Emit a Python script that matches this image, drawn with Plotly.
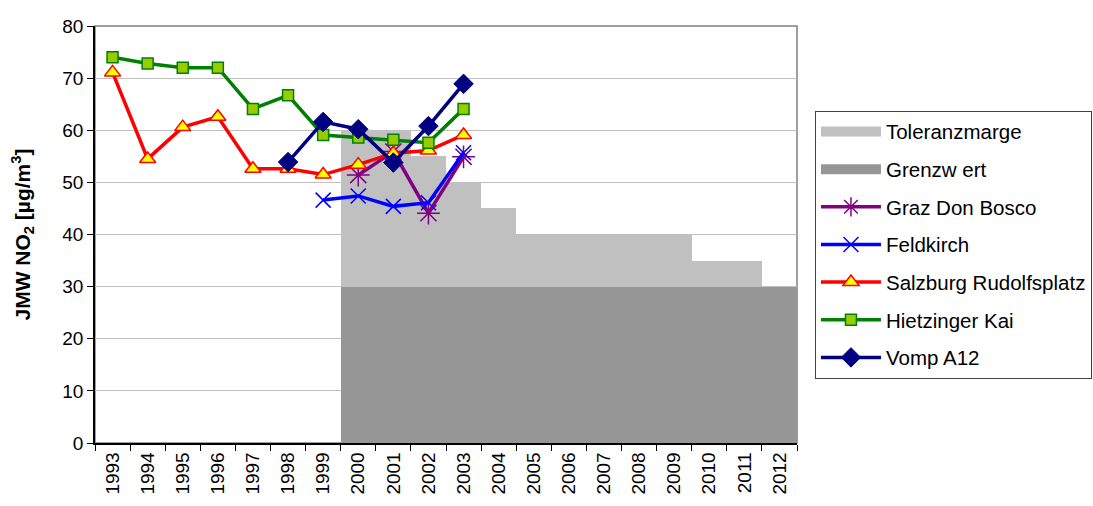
import plotly.graph_objects as go

years = [str(y) for y in range(1993, 2013)]

# Limit value and tolerance margin (2000-2012)
limit_years = [str(y) for y in range(2000, 2013)]
grenzwert = [30] * 13
toleranzmarge = [30, 30, 25, 20, 15, 10, 10, 10, 10, 10, 5, 5, 0]

# Annual mean NO2 at the stations
graz_years = ["2000", "2001", "2002", "2003"]
graz = [51.4, 55.9, 44.1, 54.9]

feldkirch_years = ["1999", "2000", "2001", "2002", "2003"]
feldkirch = [46.6, 47.4, 45.4, 46.1, 55.7]

salzburg_years = [str(y) for y in range(1993, 2004)]
salzburg = [71.1, 54.5, 60.6, 62.6, 52.6, 52.6, 51.5, 53.4, 55.6, 56.1, 59.1]

hietzing_years = [str(y) for y in range(1993, 2004)]
hietzing = [74.0, 72.8, 72.0, 72.0, 64.1, 66.7, 59.1, 58.6, 58.2, 57.6, 64.1]

vomp_years = ["1998", "1999", "2000", "2001", "2002", "2003"]
vomp = [53.9, 61.6, 60.2, 53.8, 60.8, 68.9]

FONT = "Liberation Sans, Arial, sans-serif"

fig = go.Figure()

# Stacked step columns (no legend; legend swatches added separately)
fig.add_trace(go.Bar(x=limit_years, y=grenzwert, marker=dict(color="#969696", line=dict(width=0)),
                     showlegend=False, hoverinfo="skip"))
fig.add_trace(go.Bar(x=limit_years, y=toleranzmarge, marker=dict(color="#C0C0C0", line=dict(width=0)),
                     showlegend=False, hoverinfo="skip"))

# Wide legend swatches for the two column series
fig.add_trace(go.Scatter(x=[None], y=[None], mode="lines", name="Toleranzmarge",
                         line=dict(color="#C0C0C0", width=13), legendrank=1, legendgroup="a"))
fig.add_trace(go.Scatter(x=[None], y=[None], mode="lines", name="Grenzw ert",
                         line=dict(color="#969696", width=13), legendrank=2, legendgroup="b"))

fig.add_trace(go.Scatter(x=graz_years, y=graz, mode="lines+markers", name="Graz Don Bosco",
                         line=dict(color="#800080", width=3.5),
                         marker=dict(symbol="asterisk-open", size=19, color="#800080",
                                     line=dict(color="#800080", width=1.5)),
                         legendrank=3, legendgroup="c"))
fig.add_trace(go.Scatter(x=feldkirch_years, y=feldkirch, mode="lines+markers", name="Feldkirch",
                         line=dict(color="#0000FF", width=3.5),
                         marker=dict(symbol="x-thin-open", size=15, color="#0000FF",
                                     line=dict(color="#0000FF", width=1.5)),
                         legendrank=4, legendgroup="d"))
fig.add_trace(go.Scatter(x=salzburg_years, y=salzburg, mode="lines+markers", name="Salzburg Rudolfsplatz",
                         line=dict(color="#FF0000", width=3.5),
                         marker=dict(symbol="triangle-up", size=14, color="#FFFF00",
                                     line=dict(color="#FF0000", width=1.5)),
                         legendrank=5, legendgroup="e"))
fig.add_trace(go.Scatter(x=hietzing_years, y=hietzing, mode="lines+markers", name="Hietzinger Kai",
                         line=dict(color="#008000", width=3.5),
                         marker=dict(symbol="square", size=11, color="#99CC00",
                                     line=dict(color="#008000", width=1.5)),
                         legendrank=6, legendgroup="f"))
fig.add_trace(go.Scatter(x=vomp_years, y=vomp, mode="lines+markers", name="Vomp A12",
                         line=dict(color="#000080", width=3.5),
                         marker=dict(symbol="diamond", size=15, color="#000080",
                                     line=dict(color="#000080", width=1)),
                         legendrank=7, legendgroup="g"))

fig.update_layout(
    width=1093, height=506,
    margin=dict(l=95, r=296, t=26, b=63, autoexpand=False),
    paper_bgcolor="white", plot_bgcolor="white",
    barmode="stack", bargap=0,
    font=dict(family=FONT, color="black", size=19),
    showlegend=True,
    legend=dict(
        x=1.0256, y=0.797, xanchor="left", yanchor="top",
        bordercolor="#404040", borderwidth=1,
        font=dict(family=FONT, size=20.5, color="black"),
        traceorder="grouped", tracegroupgap=8,
        itemwidth=60, bgcolor="white",
    ),
    xaxis=dict(
        type="category", categoryorder="array", categoryarray=years,
        range=[-0.5, 19.5],
        showgrid=False, showline=True, linecolor="black", linewidth=1.5,
        ticks="outside", tickson="boundaries", ticklen=6, tickcolor="black",
        tickangle=-90, tickfont=dict(family=FONT, size=19),
    ),
    yaxis=dict(
        range=[0, 80], dtick=10,
        showgrid=True, gridcolor="#C0C0C0", gridwidth=1,
        showline=True, linecolor="black", linewidth=1.5,
        ticks="outside", ticklen=6, tickcolor="black",
        tickfont=dict(family=FONT, size=19),
        zeroline=False,
        title=dict(text="<b>JMW NO<sub>2</sub> [µg/m<sup>3</sup>]</b>",
                   font=dict(family=FONT, size=21), standoff=26),
    ),
    shapes=[dict(type="rect", xref="paper", yref="paper", x0=0, x1=1, y0=0, y1=1,
                 line=dict(color="#808080", width=1.5), layer="below")],
)

fig.write_html("out.html")
